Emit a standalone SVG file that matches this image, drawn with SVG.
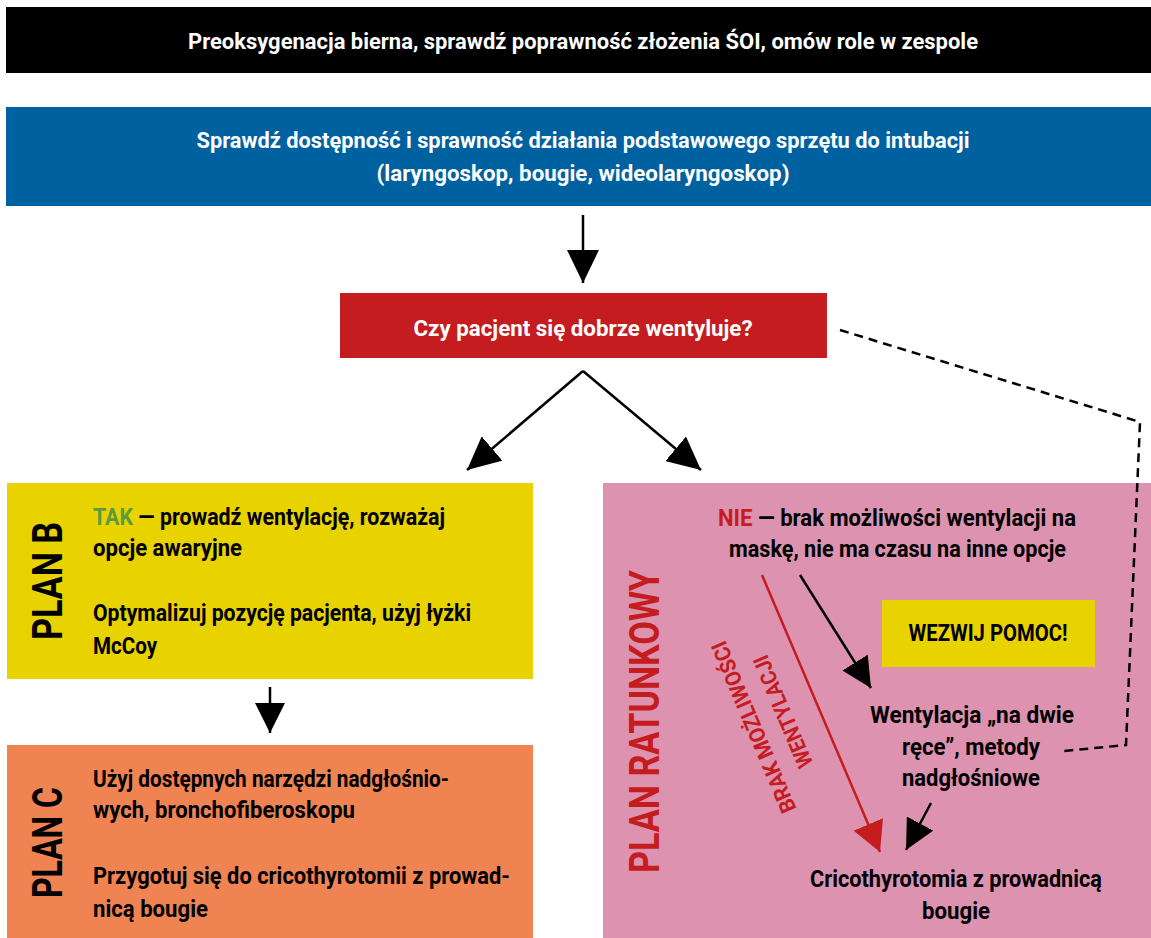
<svg xmlns="http://www.w3.org/2000/svg" width="1151" height="938" viewBox="0 0 1151 938">
<style>
text{font-family:Roboto,"Liberation Sans","DejaVu Sans",sans-serif;font-weight:700;}
.t{font-size:22px;fill:#fff;text-anchor:middle;}
.b{font-size:23px;fill:#000;}
.c{text-anchor:middle;}
.plan{font-size:42px;text-anchor:middle;}
.ln{fill:none;stroke:#000;stroke-width:2.5;}
</style>
<defs>
<marker id="ah" markerUnits="userSpaceOnUse" markerWidth="34" markerHeight="32" refX="33" refY="16" orient="auto">
<path d="M0,0 L33,16 L0,32 z" fill="#000"/>
</marker>
<marker id="ahs" markerUnits="userSpaceOnUse" markerWidth="31" markerHeight="30" refX="30" refY="15" orient="auto">
<path d="M0,0 L30,15 L0,30 z" fill="#000"/>
</marker>
<marker id="ahr" markerUnits="userSpaceOnUse" markerWidth="31" markerHeight="32" refX="30" refY="16" orient="auto">
<path d="M0,0 L30,16 L0,32 z" fill="#c41c1f"/>
</marker>
</defs>

<g id="top-bar">
<rect x="6" y="7" width="1145" height="66" fill="#000"/>
<text class="t" x="583" y="49" textLength="790" lengthAdjust="spacingAndGlyphs">Preoksygenacja bierna, sprawdź poprawność złożenia ŚOI, omów role w zespole</text>
</g>

<g id="equipment">
<rect x="6" y="107" width="1145" height="99" fill="#0061a1"/>
<text class="t" x="583" y="148" textLength="773" lengthAdjust="spacingAndGlyphs">Sprawdź dostępność i sprawność działania podstawowego sprzętu do intubacji</text>
<text class="t" x="583" y="181" textLength="413" lengthAdjust="spacingAndGlyphs">(laryngoskop, bougie, wideolaryngoskop)</text>
</g>

<g id="question">
<rect x="340" y="293" width="487" height="65" fill="#c41c1f"/>
<text class="t" x="583" y="336" textLength="339" lengthAdjust="spacingAndGlyphs">Czy pacjent się dobrze wentyluje?</text>
</g>

<g id="plan-b">
<rect x="7" y="483" width="526" height="196" fill="#e8d300"/>
<text class="plan" transform="translate(62,581) rotate(-90)" textLength="118" lengthAdjust="spacingAndGlyphs">PLAN B</text>
<text class="b" x="93" y="525" textLength="352" lengthAdjust="spacingAndGlyphs"><tspan fill="#5f9a3c">TAK</tspan> — prowadź wentylację, rozważaj</text>
<text class="b" x="93" y="556" textLength="149" lengthAdjust="spacingAndGlyphs">opcje awaryjne</text>
<text class="b" x="93" y="621" textLength="378" lengthAdjust="spacingAndGlyphs">Optymalizuj pozycję pacjenta, użyj łyżki</text>
<text class="b" x="93" y="654" textLength="64" lengthAdjust="spacingAndGlyphs">McCoy</text>
</g>

<g id="plan-c">
<rect x="7" y="745" width="526" height="193" fill="#f08352"/>
<text class="plan" transform="translate(62,842.5) rotate(-90)" textLength="111" lengthAdjust="spacingAndGlyphs">PLAN C</text>
<text class="b" x="93" y="787" textLength="356" lengthAdjust="spacingAndGlyphs">Użyj dostępnych narzędzi nadgłośnio-</text>
<text class="b" x="93" y="818" textLength="262" lengthAdjust="spacingAndGlyphs">wych, bronchofiberoskopu</text>
<text class="b" x="93" y="884" textLength="417" lengthAdjust="spacingAndGlyphs">Przygotuj się do cricothyrotomii z prowad-</text>
<text class="b" x="93" y="917" textLength="115" lengthAdjust="spacingAndGlyphs">nicą bougie</text>
</g>

<g id="plan-ratunkowy">
<rect x="603" y="483" width="548" height="455" fill="#dd93b0"/>
<text class="plan" fill="#c41c1f" transform="translate(659,721.5) rotate(-90)" textLength="303" lengthAdjust="spacingAndGlyphs">PLAN RATUNKOWY</text>
<text class="b c" x="897" y="526" textLength="358" lengthAdjust="spacingAndGlyphs"><tspan fill="#c41c1f">NIE</tspan> — brak możliwości wentylacji na</text>
<text class="b c" x="897.5" y="557" textLength="337" lengthAdjust="spacingAndGlyphs">maskę, nie ma czasu na inne opcje</text>
</g>

<g id="wezwij-pomoc">
<rect x="882" y="600" width="213" height="67" fill="#e8d300"/>
<text class="b c" x="988" y="641" textLength="159" lengthAdjust="spacingAndGlyphs">WEZWIJ POMOC!</text>
</g>

<g id="wentylacja">
<text class="b c" x="972" y="723" textLength="204" lengthAdjust="spacingAndGlyphs">Wentylacja „na dwie</text>
<text class="b c" x="971" y="755" textLength="138" lengthAdjust="spacingAndGlyphs">ręce”, metody</text>
<text class="b c" x="971" y="786" textLength="138" lengthAdjust="spacingAndGlyphs">nadgłośniowe</text>
</g>

<g id="cricothyrotomia">
<text class="b c" x="956" y="887" textLength="292" lengthAdjust="spacingAndGlyphs">Cricothyrotomia z prowadnicą</text>
<text class="b c" x="956" y="919" textLength="68" lengthAdjust="spacingAndGlyphs">bougie</text>
</g>

<g id="connectors">
<line class="ln" x1="583" y1="215" x2="583" y2="283" marker-end="url(#ah)"/>
<line class="ln" x1="583" y1="371" x2="467" y2="470" marker-end="url(#ah)"/>
<line class="ln" x1="583" y1="371" x2="701" y2="470" marker-end="url(#ah)"/>
<line class="ln" x1="270" y1="687" x2="270" y2="733" marker-end="url(#ahs)"/>
<line class="ln" x1="800" y1="575" x2="871" y2="688" marker-end="url(#ahs)"/>
<line class="ln" x1="931" y1="803" x2="906" y2="850" marker-end="url(#ahs)"/>
<line fill="none" stroke="#c41c1f" stroke-width="2.5" x1="762" y1="575" x2="880" y2="852" marker-end="url(#ahr)"/>
<path class="ln" d="M840,330 L1140,422 L1126,745 L1064,751" stroke-dasharray="9 6"/>
<text fill="#c41c1f" font-size="22" text-anchor="middle" transform="translate(768,718) rotate(-113)">
<tspan x="0" y="-9" textLength="184" lengthAdjust="spacingAndGlyphs">BRAK MOŻLIWOŚCI</tspan>
<tspan x="0" y="24" textLength="120" lengthAdjust="spacingAndGlyphs">WENTYLACJI</tspan>
</text>
</g>
</svg>
